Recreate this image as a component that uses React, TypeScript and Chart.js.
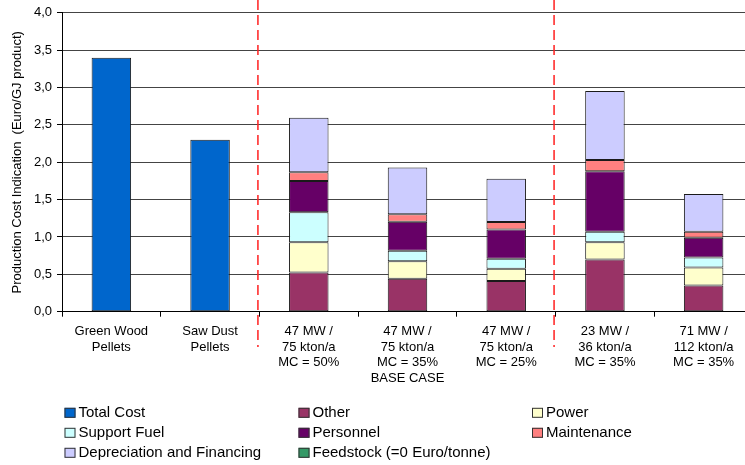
import React, { useEffect, useRef } from "react";
import { Chart, registerables } from "chart.js";

Chart.register(...registerables);

const categories: string[][] = [
  ["Green Wood", "Pellets"],
  ["Saw Dust", "Pellets"],
  ["47 MW /", "75 kton/a", "MC = 50%"],
  ["47 MW /", "75 kton/a", "MC = 35%", "BASE CASE"],
  ["47 MW /", "75 kton/a", "MC = 25%"],
  ["23 MW /", "36 kton/a", "MC = 35%"],
  ["71 MW /", "112 kton/a", "MC = 35%"],
];

const totalCost = [3.4, 2.3, null, null, null, null, null];
const other = [null, null, 0.525, 0.44, 0.41, 0.7, 0.35];
const power = [null, null, 0.405, 0.235, 0.165, 0.23, 0.24];
const supportFuel = [null, null, 0.4, 0.14, 0.135, 0.14, 0.135];
const personnel = [null, null, 0.42, 0.39, 0.39, 0.81, 0.265];
const maintenance = [null, null, 0.115, 0.1, 0.1, 0.15, 0.08];
const depreciation = [null, null, 0.73, 0.625, 0.58, 0.925, 0.505];
const feedstock = [null, null, 0, 0, 0, 0, 0];

const yTicks = [0, 0.5, 1, 1.5, 2, 2.5, 3, 3.5, 4];
const separatorsAfter = [1, 4];

const FONT = "'Liberation Sans', Arial, Helvetica, sans-serif";

const separatorPlugin = {
  id: "separators",
  afterDatasetsDraw(chart: any) {
    const x = chart.scales.x;
    const ctx = chart.ctx;
    ctx.save();
    ctx.strokeStyle = "#ff2020";
    ctx.lineWidth = 1.5;
    ctx.setLineDash([10, 5]);
    separatorsAfter.forEach((i) => {
      const px = (x.getPixelForValue(i) + x.getPixelForValue(i + 1)) / 2 - 1.5;
      ctx.beginPath();
      ctx.moveTo(px, 0);
      ctx.lineTo(px, 347);
      ctx.stroke();
    });
    ctx.restore();
  },
};

const legendPlugin = {
  id: "gridLegend",
  afterDraw(chart: any) {
    const ctx = chart.ctx;
    const cols = [64.5, 298.5, 532];
    const rows = [412.8, 432.8, 452.8];
    ctx.save();
    ctx.font = `15px ${FONT}`;
    ctx.textBaseline = "middle";
    ctx.textAlign = "left";
    chart.data.datasets.forEach((ds: any, i: number) => {
      const cx = cols[i % 3];
      const cy = rows[Math.floor(i / 3)];
      ctx.fillStyle = ds.backgroundColor;
      ctx.fillRect(cx, cy - 5, 11, 10);
      ctx.strokeStyle = "#333";
      ctx.lineWidth = 1;
      ctx.setLineDash([]);
      ctx.strokeRect(cx + 0.5, cy - 4.5, 10, 9);
      ctx.fillStyle = "#000";
      ctx.fillText(ds.label, cx + 14, cy);
    });
    ctx.restore();
  },
};

export default function App() {
  const ref = useRef<HTMLCanvasElement | null>(null);

  useEffect(() => {
    if (!ref.current) return;
    const mk = (label: string, data: any[], color: string, bw = 1) => ({
      label,
      data,
      backgroundColor: color,
      borderColor: "#1a1a1a",
      borderWidth: bw,
      borderSkipped: false,
    });
    const chart = new Chart(ref.current, {
      type: "bar",
      data: {
        labels: categories,
        datasets: [
          mk("Total Cost", totalCost, "#0066CC"),
          mk("Other", other, "#993366"),
          mk("Power", power, "#FFFFCC"),
          mk("Support Fuel", supportFuel, "#CCFFFF"),
          mk("Personnel", personnel, "#660066"),
          mk("Maintenance", maintenance, "#FF8080"),
          mk("Depreciation and Financing", depreciation, "#CCCCFF"),
          mk("Feedstock (=0 Euro/tonne)", feedstock, "#339966", 0),
        ] as any,
      },
      options: {
        animation: false,
        responsive: false,
        devicePixelRatio: 1,
        layout: { padding: { top: 12, right: 2, left: 0, bottom: 0 } },
        datasets: { bar: { categoryPercentage: 1, barPercentage: 0.4 } },
        plugins: {
          legend: { display: false },
          tooltip: { enabled: false },
        },
        scales: {
          x: {
            stacked: true,
            grid: {
              drawOnChartArea: false,
              drawTicks: true,
              tickLength: 5,
              tickColor: "#000",
            },
            border: { display: true, color: "#000", width: 1 },
            ticks: {
              color: "#000",
              font: { family: FONT, size: 13, lineHeight: 1.2 },
              padding: 7,
              maxRotation: 0,
              autoSkip: false,
            },
            afterFit: (s: any) => {
              s.height = 465 - 311.7;
            },
          },
          y: {
            stacked: true,
            min: 0,
            max: 4,
            afterBuildTicks: (s: any) => {
              s.ticks = yTicks.map((v) => ({ value: v }));
            },
            grid: {
              color: "#444",
              lineWidth: 1,
              drawTicks: true,
              tickLength: 5,
              tickColor: "#000",
            },
            border: { display: true, color: "#000", width: 1 },
            ticks: {
              color: "#000",
              font: { family: FONT, size: 13 },
              padding: 5,
              callback: (v: any) => Number(v).toFixed(1).replace(".", ","),
            },
            title: {
              display: true,
              text: "Production Cost Indication  (Euro/GJ product)",
              color: "#000",
              font: { family: FONT, size: 13, lineHeight: 1.2 },
              padding: { top: 10, bottom: 0 },
            },
            afterFit: (s: any) => {
              s.width = 62;
            },
          },
        },
      },
      plugins: [separatorPlugin, legendPlugin],
    });
    return () => chart.destroy();
  }, []);

  return (
    <div
      style={{
        position: "absolute",
        left: 0,
        top: 0,
        width: 745,
        height: 465,
        overflow: "hidden",
        background: "#fff",
      }}
    >
      <canvas
        ref={ref}
        width={755}
        height={465}
        style={{ width: 755, height: 465, display: "block" }}
      />
    </div>
  );
}
